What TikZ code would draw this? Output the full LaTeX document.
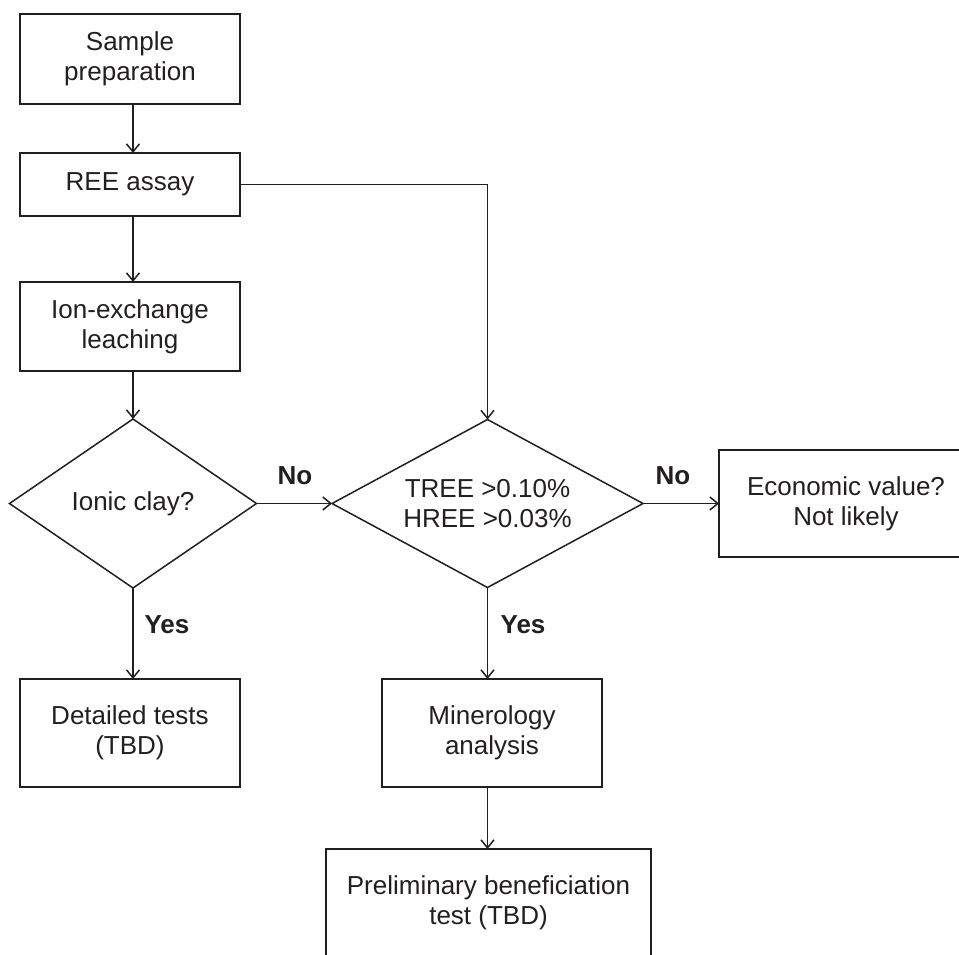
\documentclass[tikz,border=0pt]{standalone}
\usepackage{fontspec}
\setmainfont{Liberation Sans}
\usetikzlibrary{shapes.geometric,arrows.meta,calc}
\definecolor{ink}{HTML}{231F20}
\begin{document}
\begin{tikzpicture}[x=1pt,y=-1pt,
  every node/.style={text=ink},
  base/.style={draw=ink,line width=1.5pt,inner sep=0pt,outer sep=0pt,align=center,
     font=\fontsize{26}{30}\selectfont},
  box/.style={base,rectangle,minimum width=220pt,minimum height=108pt},
  dec/.style={base,diamond,minimum width=247pt,minimum height=169pt,shape aspect=1.8},
  lab/.style={font=\fontsize{26}{30}\selectfont\bfseries,inner sep=0pt},
  conn/.style={draw=ink,line width=1.5pt,-{Straight Barb[length=8pt,width=13pt,line width=1.5pt]}}]
\clip (0,0) rectangle (959,954);
\fill[white] (0,0) rectangle (959,954);
\node[box,minimum height=90pt] (sp) at (130,59) {Sample\\preparation};
\node[box,minimum height=63pt] (ree) at (130,184.5) {REE assay};
\node[box,minimum height=89pt] (ion) at (130,326.5) {Ion-exchange\\leaching};
\node[dec] (ionic) at (133,503.5) {Ionic clay?};
\node[dec,minimum width=311pt,minimum height=168pt] (tree) at (487.5,503.5) {TREE >0.10\%\\HREE >0.03\%};
\node[box,minimum width=254pt,minimum height=107pt] (econ) at (846,503.5) {Economic value?\\Not likely};
\node[box] (det) at (130,733) {Detailed tests\\(TBD)};
\node[box] (min) at (492,733) {Minerology\\analysis};
\node[box,minimum width=325pt] (pre) at (488.5,903) {Preliminary beneficiation\\test (TBD)};
\coordinate (corner) at (tree.north |- ree.east);
\draw[conn] ([xshift=3pt]sp.south) -- ([xshift=3pt]ree.north);
\draw[conn] ([xshift=3pt]ree.south) -- ([xshift=3pt]ion.north);
\draw[conn] ([xshift=3pt]ion.south) -- (ionic.north);
\draw[conn] (ree.east) -- (corner) -- (tree.north);
\draw[conn] (ionic.east) -- (tree.west);
\draw[conn] (tree.east) -- (econ.west);
\draw[conn] (ionic.south) -- (ionic.south |- det.north);
\draw[conn] (tree.south) -- (tree.south |- min.north);
\draw[conn] (tree.south |- min.south) -- (tree.south |- pre.north);
\node[lab] (no1) at (295,476) {No};
\node[lab] (no2) at (673,476) {No};
\node[lab] (yes1) at (167,625) {Yes};
\node[lab] (yes2) at (523,625) {Yes};
\end{tikzpicture}
\end{document}
